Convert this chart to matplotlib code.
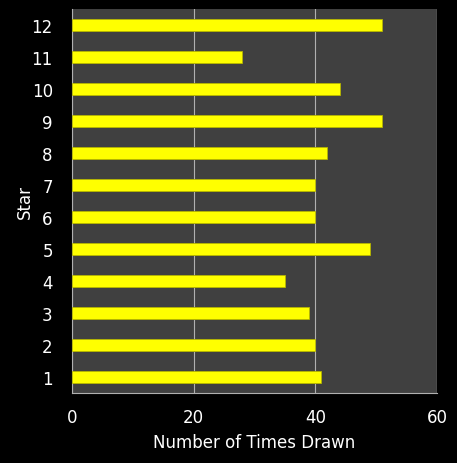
import numpy as np
from matplotlib import pyplot as plt

stars = ['1', '2', '3', '4', '5', '6', '7', '8', '9', '10', '11', '12']
times_drawn = [41, 40, 39, 35, 49, 40, 40, 42, 51, 44, 28, 51]
x_ticks = [0, 20, 40, 60]

fig = plt.figure(figsize=(4.57, 4.64), dpi=100, facecolor='black')
ax = fig.add_axes([0.158, 0.151, 0.798, 0.827])
ax.set_facecolor('#404040')

y = np.arange(len(stars))
# shadow under each bar, then the bar itself
ax.barh(y - 0.04, times_drawn, height=0.36, color='#6b6b00', zorder=2)
ax.barh(y, times_drawn, height=0.36, color='#ffff00',
        edgecolor='#b5b500', linewidth=0.6, zorder=3)

ax.set_xlim(0, 60)
ax.set_ylim(-0.5, len(stars) - 0.5)
ax.set_xticks(x_ticks)
ax.set_yticks(y, stars)
ax.grid(axis='x', color='#b0b0b0', linewidth=0.8, zorder=1)
ax.axvline(60, color='#b0b0b0', linewidth=0.8)

for s in ax.spines.values():
    s.set_visible(False)
ax.spines['left'].set_visible(True)
ax.spines['left'].set_color('#b0b0b0')
ax.spines['bottom'].set_visible(True)
ax.spines['bottom'].set_color('#b0b0b0')

ax.tick_params(colors='white', labelsize=12, length=0, pad=11)
ax.tick_params(axis='y', pad=14)
ax.set_xlabel('Number of Times Drawn', color='white', fontsize=12, labelpad=5)
ax.set_ylabel('Star', color='white', fontsize=12)
ax.yaxis.set_label_coords(-0.104, 0.5)

fig.savefig('out.png', dpi=100, facecolor='black')
